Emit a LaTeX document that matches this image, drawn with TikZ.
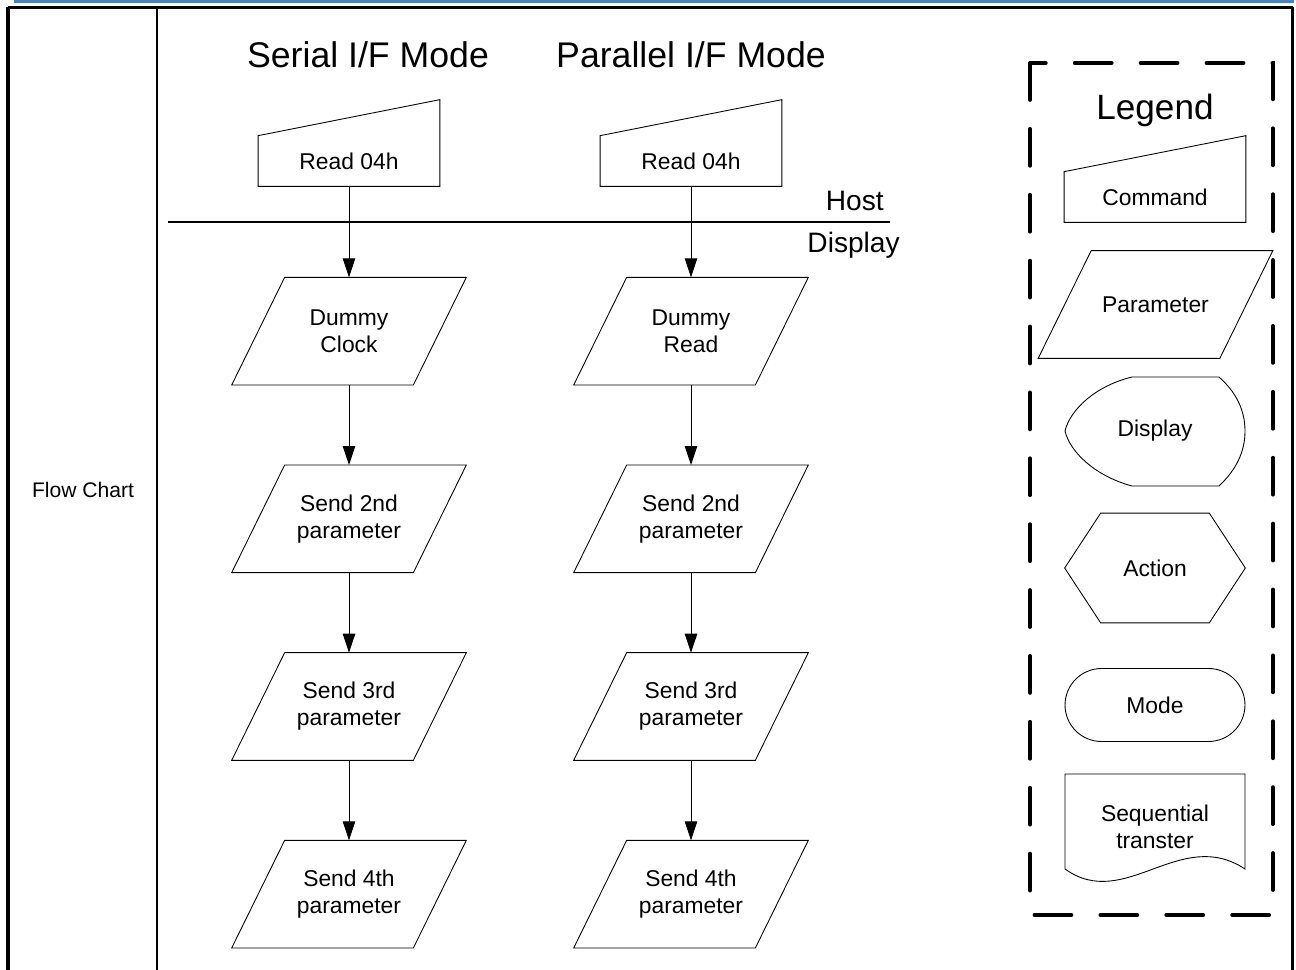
\documentclass[tikz,border=0pt]{standalone}
\usepackage{fontspec}
\setmainfont{Liberation Sans}
\usetikzlibrary{arrows.meta,positioning}
\definecolor{hdrblue}{RGB}{79,129,189}

\begin{document}
\begin{tikzpicture}[x=0.02cm, y=-0.02cm, >={Triangle[length=0.38cm,width=0.25cm]},
  txt/.style={font=\fontsize{13}{15.3}\selectfont, align=center},
  cmd/.style={txt, minimum width=3.62cm, minimum height=1cm, inner sep=0pt},
  param/.style={txt, minimum width=3.62cm, minimum height=2.14cm, inner sep=0pt},
  lgbox/.style={txt, minimum width=3.6cm, minimum height=2.18cm, inner sep=0pt},
  title/.style={font=\fontsize{20.3}{24}\selectfont, anchor=base},
  side/.style={font=\fontsize{16}{19}\selectfont, anchor=base east, inner sep=0pt},
  shp/.style={line width=0.5pt},
  flow/.style={->, line width=0.5pt}]
  \useasboundingbox (0,0) rectangle (1296,970);

  % frame
  \fill[hdrblue] (14,0) rectangle (1294,2.7);
  \draw[line width=1.2pt] (8,7.5) -- (1293,7.5);
  \draw[line width=2pt] (8,6.5) -- (8,970);
  \draw[line width=2pt] (1292.5,6.5) -- (1292.5,970);
  \draw[line width=1.2pt] (157,7.5) -- (157,970);
  \node[font=\fontsize{12}{14}\selectfont, anchor=base] (fc) at (83,497) {Flow Chart};

  % titles
  \node[title] (tS) at (368,67) {Serial I/F Mode};
  \node[title] (tP) at (691,67) {Parallel I/F Mode};

  % serial column
  \node[cmd] (rdS) at (349,161) {Read 04h};
  \node[param, below=1.82cm of rdS] (dcS) {Dummy\\Clock};
  \node[param, below=1.6cm of dcS] (p2S) {Send 2nd\\parameter};
  \node[param, below=1.6cm of p2S] (p3S) {Send 3rd\\parameter};
  \node[param, below=1.6cm of p3S] (p4S) {Send 4th\\parameter};

  % parallel column
  \node[cmd] (rdP) at (691,161) {Read 04h};
  \node[param, below=1.82cm of rdP] (dcP) {Dummy\\Read};
  \node[param, below=1.6cm of dcP] (p2P) {Send 2nd\\parameter};
  \node[param, below=1.6cm of p2P] (p3P) {Send 3rd\\parameter};
  \node[param, below=1.6cm of p3P] (p4P) {Send 4th\\parameter};

  % host / display border
  \coordinate (hl) at (168,222);
  \coordinate (hr) at (890,222);
  \draw[line width=0.6pt] (hl) -- (hr);
  \node[side] (host) at (884,210) {Host};
  \node[side] (disp) at (900,252) {Display};

  \foreach \a/\b in {rdS/dcS, dcS/p2S, p2S/p3S, p3S/p4S,
                     rdP/dcP, dcP/p2P, p2P/p3P, p3P/p4P}
    \draw[flow] (\a) -- (\b);

  % legend
  \draw[line width=2.2pt, line cap=round, dash pattern=on 21pt off 16.5pt]
    (1030,63) rectangle (1273,915);
  \node[font=\fontsize{20}{24}\selectfont, anchor=base] (lg) at (1155,119) {Legend};
  \node[cmd] (lgCmd) at (1155,197) {Command};
  \node[param] (lgPar) at (1155.5,304.5) {Parameter};
  \node[lgbox] (lgDisp) at (1155,431) {Display};
  \node[lgbox] (lgAct) at (1155,568) {Action};
  \node[txt, draw, shp, minimum width=3.6cm, minimum height=1.46cm,
    rounded corners=0.73cm] (lgMode) at (1155,705) {Mode};
  \node[txt] (lgSeq) at (1155,827) {Sequential\\transter};

  % shape outlines
  \foreach \n in {rdS,rdP,lgCmd}
    \draw[shp] (\n.south west) -- (\n.south east)
      -- ([yshift=0.72cm]\n.north east) -- (\n.north west) -- cycle;
  \foreach \n in {dcS,p2S,p3S,p4S,dcP,p2P,p3P,p4P,lgPar}
    \draw[shp] ([xshift=0.53cm]\n.north west) -- ([xshift=0.53cm]\n.north east)
      -- ([xshift=-0.53cm]\n.south east) -- ([xshift=-0.53cm]\n.south west) -- cycle;
  \draw[shp] (1132,377) -- (1219,377)
    .. controls (1236,392) and (1245,410) .. (1245,431)
    .. controls (1245,452) and (1236,470) .. (1219,486) -- (1132,486)
    .. controls (1095,476) and (1070,452) .. (1065,431)
    .. controls (1070,410) and (1095,386) .. (1132,377);
  \draw[shp] ([xshift=0.72cm]lgAct.north west)
    -- ([xshift=-0.72cm]lgAct.north east) -- (lgAct.east)
    -- ([xshift=-0.72cm]lgAct.south east) -- ([xshift=0.72cm]lgAct.south west)
    -- (lgAct.west) -- cycle;
  \draw[shp] (1065,869) -- (1065,774) -- (1245,774) -- (1245,869)
    .. controls (1180,826) and (1125,912) .. (1065,869);
\end{tikzpicture}
\end{document}
